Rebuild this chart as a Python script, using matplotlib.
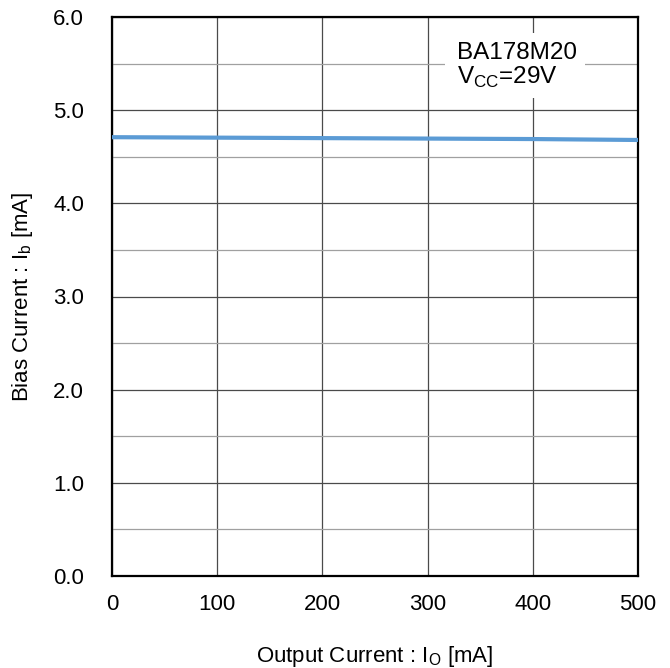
import numpy as np
import matplotlib.pyplot as plt
from matplotlib.patches import Rectangle

plt.rcParams['font.family'] = ['Liberation Sans', 'DejaVu Sans']
plt.rcParams['mathtext.fontset'] = 'custom'
plt.rcParams['mathtext.rm'] = 'Liberation Sans'

# data
io_ma = [0, 100, 200, 300, 400, 500]
ib_ma = [4.71, 4.705, 4.70, 4.695, 4.69, 4.68]
xticks = [0, 100, 200, 300, 400, 500]
yticks = [0.0, 1.0, 2.0, 3.0, 4.0, 5.0, 6.0]

fig = plt.figure(figsize=(6.70, 6.68), dpi=100)
ax = fig.add_axes([112/670, 92/668, 526/670, 559/668])

ax.plot(io_ma, ib_ma, color='#5b9bd5', lw=3, zorder=3, solid_capstyle='butt')

ax.set_xlim(0, 500)
ax.set_ylim(0, 6)
ax.set_xticks(xticks)
ax.set_yticks(yticks)
ax.set_yticklabels(['%.1f' % v for v in yticks])
ax.set_yticks(np.arange(0.5, 6, 1.0), minor=True)
ax.tick_params(which='both', length=0, labelsize=16)
ax.tick_params(axis='x', pad=13)
ax.tick_params(axis='y', pad=20)
ax.grid(which='major', color='#4a4a4a', lw=0.9)
ax.grid(which='minor', axis='y', color='#a0a0a0', lw=0.9)
for s in ax.spines.values():
    s.set_linewidth(1.6)
    s.set_color('black')

ax.set_xlabel('Output Current : I$_{\\mathrm{O}}$ [mA]', fontsize=16, labelpad=21)
ax.set_ylabel('Bias Current : I$_{\\mathrm{b}}$ [mA]', fontsize=16, labelpad=13)

# white box behind the condition note
ax.add_patch(Rectangle((317, 5.13), 133, 0.70, facecolor='white', edgecolor='none', zorder=4))
ax.text(328, 5.55, 'BA178M20', fontsize=17.5, va='baseline', ha='left', zorder=5)
ax.text(328, 5.28, 'V$_{\\mathrm{CC}}$=29V', fontsize=17.5, va='baseline', ha='left', zorder=5)

fig.savefig('out.png', dpi=100)
